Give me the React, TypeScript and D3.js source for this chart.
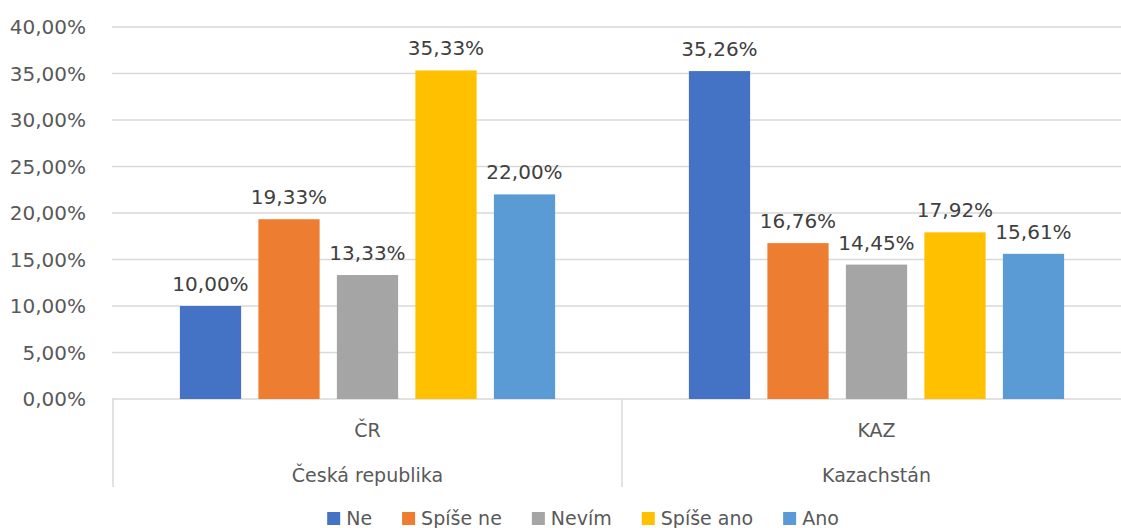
import * as d3 from "d3"
import { useEffect, useRef } from "react"

const groupCodes = ["ČR", "KAZ"]
const groupNames = ["Česká republika", "Kazachstán"]
const seriesNames = ["Ne", "Spíše ne", "Nevím", "Spíše ano", "Ano"]
const seriesColors = ["#4472C4", "#ED7D31", "#A5A5A5", "#FFC000", "#5B9BD5"]
const valuesCR = [10.0, 19.33, 13.33, 35.33, 22.0]
const valuesKAZ = [35.26, 16.76, 14.45, 17.92, 15.61]
const yTicks = [0, 5, 10, 15, 20, 25, 30, 35, 40]

const fmt = (v: number) => d3.format(".2f")(v).replace(".", ",") + "%"

export default function App() {
    const svgRef = useRef<SVGSVGElement>(null)

    useEffect(() => {
        const width = 1121
        const height = 528
        const marginLeft = 113
        const plotRight = 1131
        const yZero = 399
        const yTop = 27
        const font = "DejaVu Sans, Verdana, sans-serif"

        if (svgRef.current !== null) {
            svgRef.current.innerHTML = ""
        }

        const svg = d3.select(svgRef.current)
            .attr("width", width)
            .attr("height", height)
            .attr("viewBox", [0, 0, width, height])
            .style("font-family", font)

        const rows = [valuesCR, valuesKAZ]

        const x0 = d3.scaleBand<string>(groupCodes, [marginLeft, plotRight]).padding(0)
        const x1 = d3.scaleBand<string>(seriesNames, [0, x0.bandwidth()])
            .paddingInner(0.22)
            .paddingOuter(0.852)
        const y = d3.scaleLinear([0, 40], [yZero, yTop])

        // gridlines
        svg.append("g")
            .selectAll("line")
            .data(yTicks)
            .join("line")
            .attr("x1", marginLeft - 1)
            .attr("x2", width)
            .attr("y1", d => y(d))
            .attr("y2", d => y(d))
            .attr("stroke", "#d9d9d9")
            .attr("stroke-width", 1.5)

        // y tick labels
        svg.append("g")
            .selectAll("text")
            .data(yTicks)
            .join("text")
            .attr("x", 86)
            .attr("y", d => y(d) + 7)
            .attr("text-anchor", "end")
            .attr("font-size", 20)
            .attr("fill", "#595959")
            .text(d => fmt(d))

        // bars
        const groups = svg.append("g")
            .selectAll("g")
            .data(groupCodes)
            .join("g")
            .attr("transform", d => `translate(${x0(d)},0)`)

        groups.selectAll("rect")
            .data((_, gi) => rows[gi].map((v, i) => ({ v, i })))
            .join("rect")
            .attr("x", d => x1(seriesNames[d.i])!)
            .attr("y", d => y(d.v))
            .attr("width", x1.bandwidth())
            .attr("height", d => yZero - y(d.v))
            .attr("fill", d => seriesColors[d.i])

        groups.selectAll("text")
            .data((_, gi) => rows[gi].map((v, i) => ({ v, i })))
            .join("text")
            .attr("x", d => x1(seriesNames[d.i])! + x1.bandwidth() / 2)
            .attr("y", d => y(d.v) - 15)
            .attr("text-anchor", "middle")
            .attr("font-size", 20)
            .attr("fill", "#404040")
            .text(d => fmt(d.v))

        // category axis
        const catAxis = svg.append("g")
        const dividers = [marginLeft, ...groupCodes.map(c => x0(c)! + x0.bandwidth())]
        catAxis.selectAll("line")
            .data(dividers)
            .join("line")
            .attr("x1", d => d)
            .attr("x2", d => d)
            .attr("y1", yZero)
            .attr("y2", 487)
            .attr("stroke", "#d9d9d9")
            .attr("stroke-width", 1.5)

        catAxis.selectAll("text.code")
            .data(groupCodes)
            .join("text")
            .attr("class", "code")
            .attr("x", d => x0(d)! + x0.bandwidth() / 2)
            .attr("y", 437)
            .attr("text-anchor", "middle")
            .attr("font-size", 19)
            .attr("fill", "#595959")
            .text(d => d)

        catAxis.selectAll("text.name")
            .data(groupNames)
            .join("text")
            .attr("class", "name")
            .attr("x", (_, i) => x0(groupCodes[i])! + x0.bandwidth() / 2)
            .attr("y", 482)
            .attr("text-anchor", "middle")
            .attr("font-size", 19)
            .attr("fill", "#595959")
            .text(d => d)

        // legend
        const legend = svg.append("g")
        const items = legend.selectAll("g")
            .data(seriesNames)
            .join("g")
        items.append("rect")
            .attr("width", 13)
            .attr("height", 13)
            .attr("y", 512)
            .attr("fill", (_, i) => seriesColors[i])
        const labels = items.append("text")
            .attr("x", 19)
            .attr("y", 525)
            .attr("font-size", 19)
            .attr("fill", "#595959")
            .text(d => d)

        const widths = labels.nodes().map(n => (n as SVGTextElement).getComputedTextLength())
        const itemGap = 30
        const itemWidths = widths.map(w => 19 + w)
        const total = d3.sum(itemWidths) + itemGap * (itemWidths.length - 1)
        let cursor = 583 - total / 2
        items.attr("transform", (_, i) => {
            const tx = cursor
            cursor += itemWidths[i] + itemGap
            return `translate(${tx},0)`
        })
    }, [])

    return <>
        <svg ref={svgRef} style={{ position: "absolute", left: 0, top: 0, display: "block" }}></svg>
    </>
}
